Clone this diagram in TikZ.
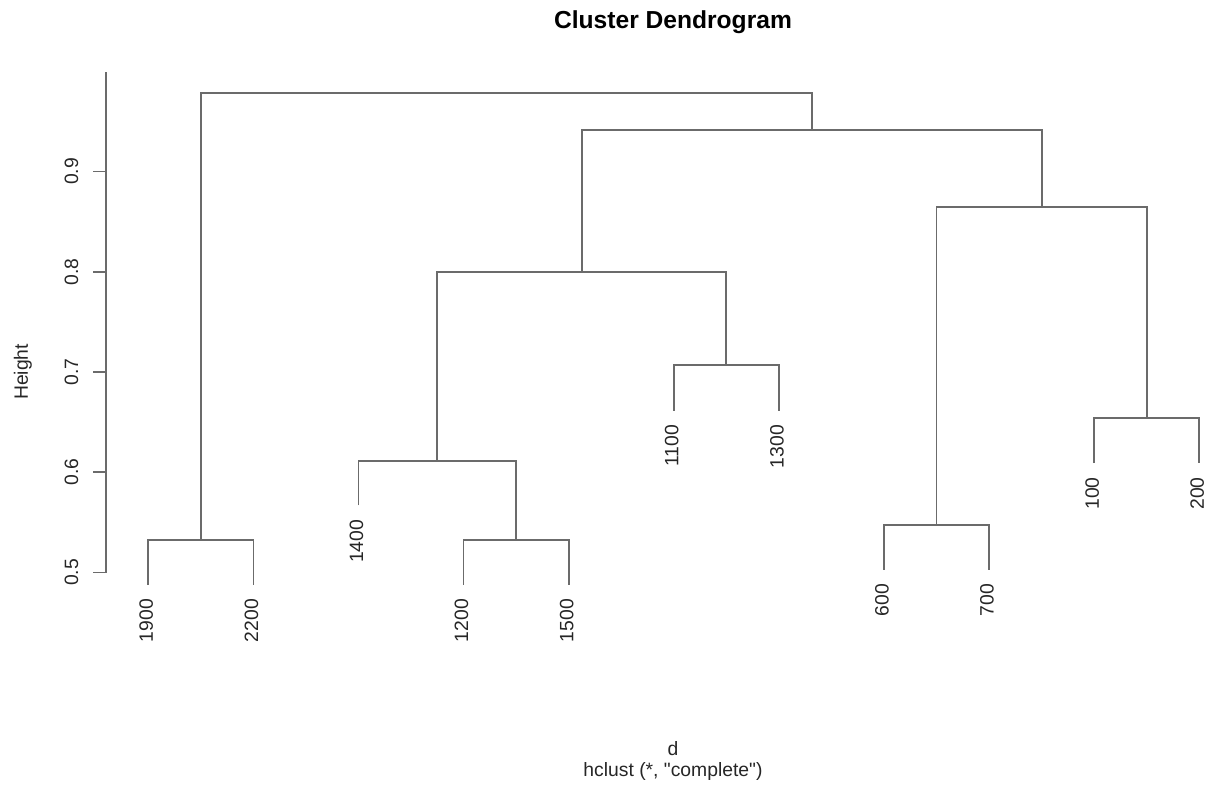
\documentclass[tikz,border=0pt]{standalone}
\usepackage{fontspec}
\setmainfont{Liberation Sans}
\newfontfamily\rplainfont{Liberation Sans}

\tikzset{
  branch/.style={draw=black!58, line width=1pt},
  leaflabel/.style={rotate=90, anchor=mid east, inner sep=0pt, text=black!85,
    font=\fontsize{11}{13}\selectfont},
  ticklabel/.style={rotate=90, anchor=base, inner sep=0pt, text=black!85,
    font=\fontsize{11}{13}\selectfont}
}

\begin{document}
\begin{tikzpicture}[x=0.02cm, y=-0.02cm]
\useasboundingbox (0,0) rectangle (1208,785);

% leaves (hang below the merge they join)
\coordinate (l1900) at (148.3, 584.7);
        \coordinate (l2200) at (253.4, 584.7);
        \coordinate (l1400) at (358.5, 505.4);
        \coordinate (l1200) at (463.6, 584.7);
        \coordinate (l1500) at (568.7, 584.7);
        \coordinate (l1100) at (673.8, 410.7);
        \coordinate (l1300) at (778.9, 410.7);
        \coordinate (l600) at (884.0, 569.7);
        \coordinate (l700) at (989.1, 569.7);
        \coordinate (l100) at (1094.2, 463.0);
        \coordinate (l200) at (1199.3, 463.0);

% merges
\coordinate (m1) at (200.9, 540.0);
        \coordinate (m2) at (516.2, 540.0);
        \coordinate (m3) at (437.3, 460.7);
        \coordinate (m4) at (726.3, 365.0);
        \coordinate (m5) at (581.8, 271.7);
        \coordinate (m6) at (936.6, 525.0);
        \coordinate (m7) at (1146.8, 418.3);
        \coordinate (m8) at (1041.7, 206.7);
        \coordinate (m9) at (811.7, 130.0);
        \coordinate (m10) at (506.3, 93.3);

\draw[branch] (l1900) |- (m1) -| (l2200);
\draw[branch] (l1200) |- (m2) -| (l1500);
\draw[branch] (l1400) |- (m3) -| (m2);
\draw[branch] (l1100) |- (m4) -| (l1300);
\draw[branch] (m3) |- (m5) -| (m4);
\draw[branch] (l600) |- (m6) -| (l700);
\draw[branch] (l100) |- (m7) -| (l200);
\draw[branch] (m6) |- (m8) -| (m7);
\draw[branch] (m5) |- (m9) -| (m8);
\draw[branch] (m1) |- (m10) -| (m9);

\node[leaflabel] (t1900) at ([yshift=-14*0.02cm]l1900) {1900};
\node[leaflabel] (t2200) at ([yshift=-14*0.02cm]l2200) {2200};
\node[leaflabel] (t1400) at ([yshift=-14*0.02cm]l1400) {1400};
\node[leaflabel] (t1200) at ([yshift=-14*0.02cm]l1200) {1200};
\node[leaflabel] (t1500) at ([yshift=-14*0.02cm]l1500) {1500};
\node[leaflabel] (t1100) at ([yshift=-14*0.02cm]l1100) {1100};
\node[leaflabel] (t1300) at ([yshift=-14*0.02cm]l1300) {1300};
\node[leaflabel] (t600) at ([yshift=-14*0.02cm]l600) {600};
\node[leaflabel] (t700) at ([yshift=-14*0.02cm]l700) {700};
\node[leaflabel] (t100) at ([yshift=-14*0.02cm]l100) {100};
\node[leaflabel] (t200) at ([yshift=-14*0.02cm]l200) {200};

% height axis
\coordinate (ybot) at (105.7, 572.5);
        \coordinate (ytop) at (105.7, 71.7);
\draw[branch] (ybot) -- (ytop);
\draw[branch] (93,572.5) -- (ybot);
\draw[branch] (93,472.2) -- (105.7,472.2);
\draw[branch] (93,372.0) -- (105.7,372.0);
\draw[branch] (93,271.7) -- (105.7,271.7);
\draw[branch] (93,171.5) -- (105.7,171.5);
\node[ticklabel] (y05) at (78,572.5) {0.5};
\node[ticklabel] (y06) at (78,472.2) {0.6};
\node[ticklabel] (y07) at (78,372.0) {0.7};
\node[ticklabel] (y08) at (78,271.7) {0.8};
\node[ticklabel] (y09) at (78,171.5) {0.9};

\node[ticklabel] (ylab) at (28,372) {Height};

% titles
\node[anchor=base, inner sep=0pt, font=\fontsize{14}{16}\selectfont\bfseries] (title) at (673,28) {Cluster Dendrogram};
\node[anchor=base, inner sep=0pt, text=black!85, font=\fontsize{11}{13}\selectfont] (xlab) at (673,755) {d};
\node[anchor=base, inner sep=0pt, text=black!85, font=\rplainfont\fontsize{11}{13}\selectfont] (sub) at (673,776) {hclust (*, "complete")};

\end{tikzpicture}
\end{document}
